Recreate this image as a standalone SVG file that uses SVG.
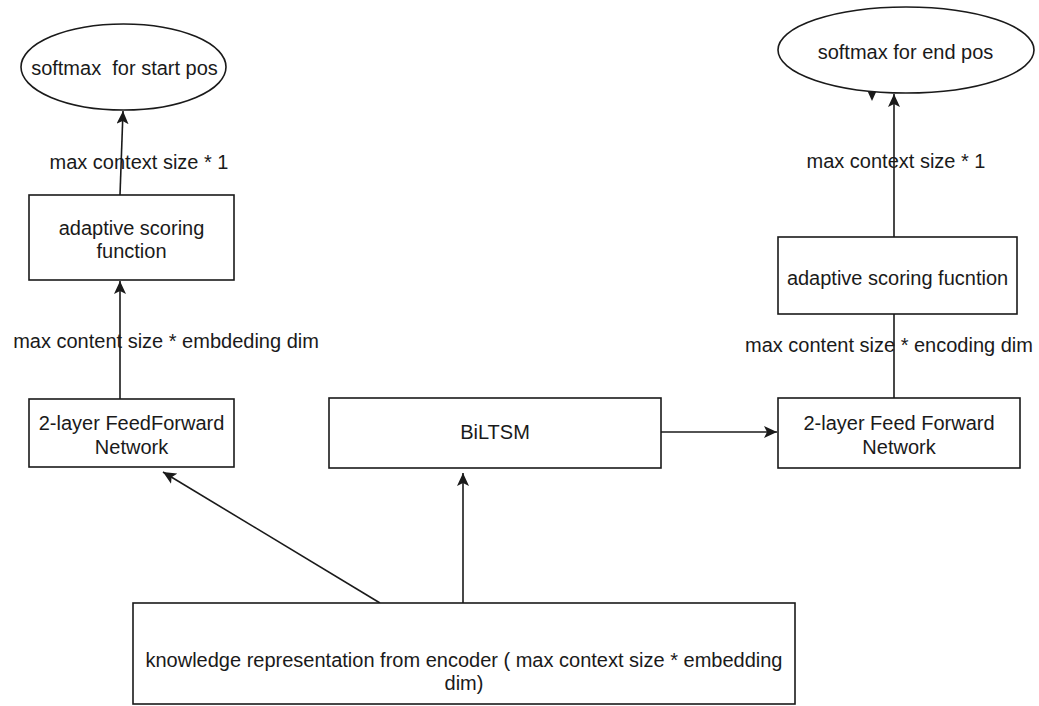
<svg xmlns="http://www.w3.org/2000/svg" width="1039" height="706" viewBox="0 0 1039 706">
<style>
.box{fill:#fff;stroke:#1a1a1a;stroke-width:1.6}
.t{font-family:"Liberation Sans",Arial,sans-serif;font-size:20px;fill:#1a1a1a;text-anchor:middle;white-space:pre}
.c{stroke:#1a1a1a;stroke-width:1.6;fill:none}
.a{marker-end:url(#arr)}
</style>
<defs>
<marker id="arr" markerUnits="userSpaceOnUse" markerWidth="14" markerHeight="12" refX="13" refY="6" orient="auto">
<path d="M0,0 L13,6 L0,12 L3,6 Z" fill="#1a1a1a"/>
</marker>
</defs>
<rect width="1039" height="706" fill="#fff"/>
<g id="connectors">
<line class="c a" x1="120" y1="195" x2="123" y2="111"/>
<line class="c a" x1="120" y1="399" x2="120" y2="281"/>
<line class="c a" x1="380" y1="603" x2="163" y2="472"/>
<line class="c a" x1="463" y1="603" x2="463" y2="473"/>
<line class="c a" x1="661" y1="432" x2="777" y2="432"/>
<line class="c" x1="894" y1="398" x2="894" y2="314"/>
<line class="c a" x1="894" y1="237" x2="894" y2="94"/>
<polygon points="867,90 877,90 872,101" fill="#1a1a1a"/>
<text class="t" x="139" y="169">max context size * 1</text>
<text class="t" x="166" y="348">max content size * embdeding dim</text>
<text class="t" x="896" y="168">max context size * 1</text>
<text class="t" x="889" y="352">max content size * encoding dim</text>
</g>
<g id="softmax-start">
<ellipse class="box" cx="123.5" cy="67" rx="102.5" ry="43"/>
<text class="t" x="124.5" y="75">softmax  for start pos</text>
</g>
<g id="softmax-end">
<ellipse class="box" cx="906" cy="50" rx="128" ry="43"/>
<text class="t" x="905.5" y="59">softmax for end pos</text>
</g>
<g id="adaptive-left">
<rect class="box" x="29" y="195" width="205" height="85"/>
<text class="t" x="131.5" y="235">adaptive scoring</text>
<text class="t" x="131.5" y="258">function</text>
</g>
<g id="ff-left">
<rect class="box" x="29" y="399" width="205" height="68"/>
<text class="t" x="131.5" y="430">2-layer FeedForward</text>
<text class="t" x="131.5" y="454">Network</text>
</g>
<g id="biltsm">
<rect class="box" x="329" y="398" width="332" height="70"/>
<text class="t" x="495" y="439">BiLTSM</text>
</g>
<g id="ff-right">
<rect class="box" x="778" y="398" width="242" height="70"/>
<text class="t" x="899" y="430">2-layer Feed Forward</text>
<text class="t" x="899" y="454">Network</text>
</g>
<g id="adaptive-right">
<rect class="box" x="778" y="237" width="239" height="77"/>
<text class="t" x="897.5" y="285">adaptive scoring fucntion</text>
</g>
<g id="knowledge">
<rect class="box" x="133" y="603" width="662" height="101"/>
<text class="t" x="464" y="667">knowledge representation from encoder ( max context size * embedding</text>
<text class="t" x="464" y="690">dim)</text>
</g>
</svg>
